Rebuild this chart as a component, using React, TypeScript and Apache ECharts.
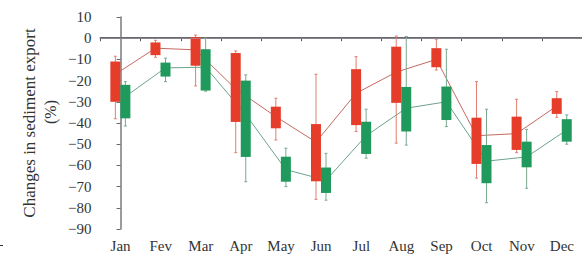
import React, { useEffect, useRef } from "react";
import * as echarts from "echarts";

const months = ["Jan", "Fev", "Mar", "Apr", "May", "Jun", "Jul", "Aug", "Sep", "Oct", "Nov", "Dec"];

// Red series (first scenario)
const redLow = [-38, -9, -22.5, -54, -48, -76, -44, -49.5, -15, -66, -54, -37.3];
const redQ1 = [-30, -8, -13, -39.5, -42.5, -67.5, -41, -30.5, -13.7, -59.3, -52.7, -35.7];
const redQ3 = [-11, -2, 0.5, -7, -32.3, -40.5, -14.6, -4, -4.7, -37.5, -37, -28.3];
const redHigh = [-8.5, -1, 1.5, -6, -28.3, -17, -8.7, 1, -0.5, -20.5, -28.8, -25.2];
const redMean = [-17, -4.7, -5.5, -24, -37, -49, -26, -16, -10, -46, -45, -32];

// Green series (second scenario)
const greenLow = [-41.4, -20.5, -25, -67.7, -70, -76.4, -56.6, -50.4, -41.7, -77.6, -70.8, -50];
const greenQ1 = [-37.8, -18.1, -24.7, -56, -67.7, -73, -54.6, -44, -38.6, -68.4, -60.9, -48.8];
const greenQ3 = [-22, -11.5, -5.2, -20, -55.9, -61, -39.4, -23, -22.8, -50.4, -48.8, -38.2];
const greenHigh = [-20.5, -9.4, 0, -17.3, -51.9, -54.3, -33.5, 0.8, -5.2, -33.5, -43, -36.2];
const greenMean = [-27.5, -14, -13.7, -36, -62, -67, -46, -33, -30, -58, -56, -43.3];

const yMin = -90;
const yMax = 10;
const yStep = 10;

const RED = "#e63c2a";
const RED_WHISKER = "#e07f70";
const RED_LINE = "#c46a60";
const GREEN = "#1f9a5c";
const GREEN_WHISKER = "#7aa890";
const GREEN_LINE = "#6da38c";

const FONT = "Liberation Serif";

function boxSeries(name: string, off: number, low: number[], q1: number[], q3: number[], high: number[], fill: string, whisker: string) {
  return {
    name,
    type: "custom",
    xAxisIndex: 1,
    yAxisIndex: 0,
    z: 3,
    encode: { x: 0, y: [1, 2, 3, 4] },
    data: months.map((_, i) => [i + off, low[i], q1[i], q3[i], high[i]]),
    renderItem: (params: any, api: any) => {
      const x = api.value(0);
      const lo = api.coord([x, api.value(1)]);
      const a = api.coord([x, api.value(2)]);
      const b = api.coord([x, api.value(3)]);
      const hi = api.coord([x, api.value(4)]);
      const w = 10;
      return {
        type: "group",
        children: [
          { type: "line", shape: { x1: lo[0], y1: lo[1], x2: hi[0], y2: hi[1] }, style: { stroke: whisker, lineWidth: 1 } },
          { type: "line", shape: { x1: hi[0] - 1.5, y1: hi[1], x2: hi[0] + 1.5, y2: hi[1] }, style: { stroke: whisker, lineWidth: 1 } },
          { type: "line", shape: { x1: lo[0] - 1.5, y1: lo[1], x2: lo[0] + 1.5, y2: lo[1] }, style: { stroke: whisker, lineWidth: 1 } },
          { type: "rect", shape: { x: b[0] - w / 2, y: b[1], width: w, height: a[1] - b[1] }, style: { fill } },
        ],
      };
    },
  };
}

function lineSeries(name: string, off: number, mean: number[], color: string, withZero: boolean) {
  const s: any = {
    name,
    type: "line",
    xAxisIndex: 1,
    yAxisIndex: 0,
    z: 2,
    symbol: "none",
    data: mean.map((v, i) => [i + off, v]),
    lineStyle: { color, width: 1 },
  };
  if (withZero) {
    s.markLine = {
      silent: true,
      symbol: ["none", "none"],
      label: { show: false },
      lineStyle: { color: "#a79cbc", type: "dotted", width: 1 },
      data: [{ yAxis: 0 }],
    };
  }
  return s;
}

export default function App() {
  const ref = useRef<HTMLDivElement>(null);
  useEffect(() => {
    if (!ref.current) return;
    const chart = echarts.init(ref.current, null, { renderer: "svg" });
    const RED_OFF = -0.13;
    const GREEN_OFF = 0.12;
    chart.setOption({
      animation: false,
      backgroundColor: "#ffffff",
      grid: { left: 100.5, top: 17, bottom: 32, width: 486 },
      xAxis: [
        {
          type: "category",
          data: months,
          position: "bottom",
          axisLine: { lineStyle: { color: "#6b6b6b", width: 2 } },
          axisTick: { show: true, length: 3, lineStyle: { color: "#555" } },
          axisLabel: { fontFamily: FONT, fontSize: 15, color: "#333", margin: 9 },
          splitLine: { show: false },
        },
        { type: "value", min: -0.5, max: 11.5, show: false },
      ],
      yAxis: {
        type: "value",
        min: yMin,
        max: yMax,
        interval: yStep,
        axisLine: { show: true, lineStyle: { color: "#7a7a7a", width: 1.5 } },
        axisTick: { show: true, length: 4, lineStyle: { color: "#666" } },
        axisLabel: {
          fontFamily: FONT,
          fontSize: 15,
          color: "#333",
          margin: 9,
          formatter: (v: number) => String(v).replace("-", "\u2212"),
        },
        splitLine: { show: false },
      },
      graphic: [
        {
          type: "text",
          x: 29,
          y: 123,
          rotation: Math.PI / 2,
          style: {
            text: "Changes in sediment export",
            font: `17px "${FONT}"`,
            fill: "#333",
            align: "center",
            verticalAlign: "middle",
          },
        },
        {
          type: "text",
          x: 50,
          y: 112,
          rotation: Math.PI / 2,
          style: {
            text: "(%)",
            font: `16px "${FONT}"`,
            fill: "#333",
            align: "center",
            verticalAlign: "middle",
          },
        },
        { type: "line", shape: { x1: 0, y1: 245.5, x2: 3, y2: 245.5 }, style: { stroke: "#333", lineWidth: 1 } },
      ],
      series: [
        lineSeries("redMean", RED_OFF, redMean, RED_LINE, true),
        lineSeries("greenMean", GREEN_OFF, greenMean, GREEN_LINE, false),
        boxSeries("red", RED_OFF, redLow, redQ1, redQ3, redHigh, RED, RED_WHISKER),
        boxSeries("green", GREEN_OFF, greenLow, greenQ1, greenQ3, greenHigh, GREEN, GREEN_WHISKER),
      ],
    });
    return () => chart.dispose();
  }, []);
  return <div ref={ref} style={{ position: "absolute", left: 0, top: 0, width: 582, height: 261 }} />;
}
